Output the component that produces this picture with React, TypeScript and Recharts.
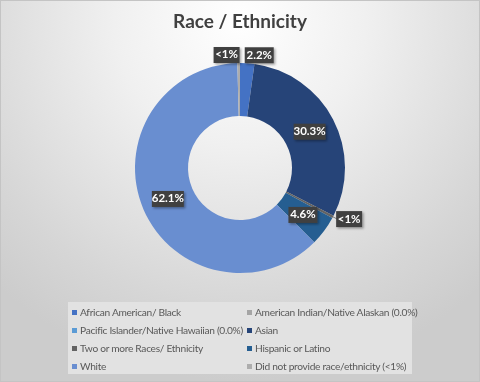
import React from 'react'
import { PieChart, Pie, Cell, Legend } from 'recharts'

// Race / Ethnicity breakdown (percent of respondents)
const groups = [
  'African American/ Black',
  'American Indian/Native Alaskan (0.0%)',
  'Pacific Islander/Native Hawaiian (0.0%)',
  'Asian',
  'Two or more Races/ Ethnicity',
  'Hispanic or Latino',
  'White',
  'Did not provide race/ethnicity (<1%)',
]
const shares = [2.2, 0, 0, 30.3, 0.4, 4.6, 62.1, 0.4]
const colors = ['#4472C4', '#A5A5A5', '#5B9BD5', '#264478', '#636363', '#255E91', '#698ED0', '#ADADAD']

const data = groups.map((name, i) => ({ name, value: shares[i], color: colors[i] }))

const RAD = Math.PI / 180
const FONT = 'Lato, "Open Sans", sans-serif'

function labelText(v: number) {
  return v < 1 ? '<1%' : `${v.toFixed(1)}%`
}

const renderLabel = (props: any) => {
  const { cx, cy, midAngle, innerRadius, outerRadius, value } = props
  if (!value) return null
  const text = labelText(value)
  const w = text.length * 3 + 17
  const h = 16
  const cos = Math.cos(-midAngle * RAD)
  const sin = Math.sin(-midAngle * RAD)
  let bx: number, by: number
  let leader = null
  if (value >= 3) {
    const r = (innerRadius + outerRadius) / 2
    bx = cx + r * cos - w / 2
    by = cy + r * sin - h / 2
  } else {
    const r = outerRadius + 7
    const px = cx + r * cos
    const py = cy + r * sin
    bx = cos >= 0 ? px - 3 : px - w + 1
    by = py - h / 2 - 1
    leader = (
      <line
        x1={cx + outerRadius * cos}
        y1={cy + outerRadius * sin}
        x2={px}
        y2={py}
        stroke="#7f7f7f"
        strokeWidth={1}
      />
    )
  }
  return (
    <g>
      {leader}
      <rect x={bx} y={by} width={w} height={h} fill="#404040" filter="url(#lblShadow)" />
      <text
        x={bx + w / 2}
        y={by + h / 2 + 0.5}
        textAnchor="middle"
        dominantBaseline="middle"
        fill="#ffffff"
        fontFamily={FONT}
        fontWeight={700}
        fontSize={11.5}
      >
        {text}
      </text>
    </g>
  )
}

const renderLegend = () => (
  <div
    style={{
      background: '#e2e2e2',
      display: 'grid',
      gridTemplateColumns: '175px 169px',
      padding: '1px 0 0 4px',
      fontFamily: FONT,
      fontSize: 10.2,
      letterSpacing: -0.3,
      color: '#595959',
      height: 72,
      boxSizing: 'border-box',
    }}
  >
    {data.map((d) => (
      <div key={d.name} style={{ display: 'flex', alignItems: 'center', height: 18, whiteSpace: 'nowrap' }}>
        <span style={{ width: 5, height: 5, background: d.color, marginRight: 3, flex: 'none' }} />
        {d.name}
      </div>
    ))}
  </div>
)

export default function App() {
  return (
    <div
      style={{
        position: 'fixed',
        left: 0,
        top: 0,
        width: 480,
        height: 382,
        boxSizing: 'border-box',
        border: '1px solid #c4c4c4',
        background: 'radial-gradient(ellipse 75% 95% at 50% 5%, #ffffff 0%, #f0f0f0 35%, #d6d6d6 80%, #cccccc 100%)',
        overflow: 'hidden',
      }}
    >
      <div
        style={{
          position: 'absolute',
          top: 8,
          width: '100%',
          textAlign: 'center',
          fontFamily: FONT,
          fontWeight: 700,
          fontSize: 19,
          color: '#404040',
        }}
      >
        Race / Ethnicity
      </div>
      <PieChart width={478} height={380} style={{ position: 'absolute', left: 0, top: 0 }}>
        <defs>
          <filter id="lblShadow" x="-30%" y="-30%" width="160%" height="160%">
            <feDropShadow dx="1.5" dy="1.5" stdDeviation="1" floodColor="#000" floodOpacity="0.35" />
          </filter>
        </defs>
        <Pie
          data={data}
          dataKey="value"
          nameKey="name"
          cx={234}
          cy={162}
          innerRadius={52}
          outerRadius={105}
          startAngle={90}
          endAngle={-270}
          stroke="none"
          label={renderLabel}
          labelLine={false}
          isAnimationActive={false}
        >
          {data.map((d, i) => (
            <Cell key={`cell-${i}`} fill={d.color} />
          ))}
        </Pie>
        <Legend
          content={renderLegend}
          wrapperStyle={{ position: 'absolute', left: 67, top: 301, width: 344, height: 72 }}
        />
      </PieChart>
    </div>
  )
}
